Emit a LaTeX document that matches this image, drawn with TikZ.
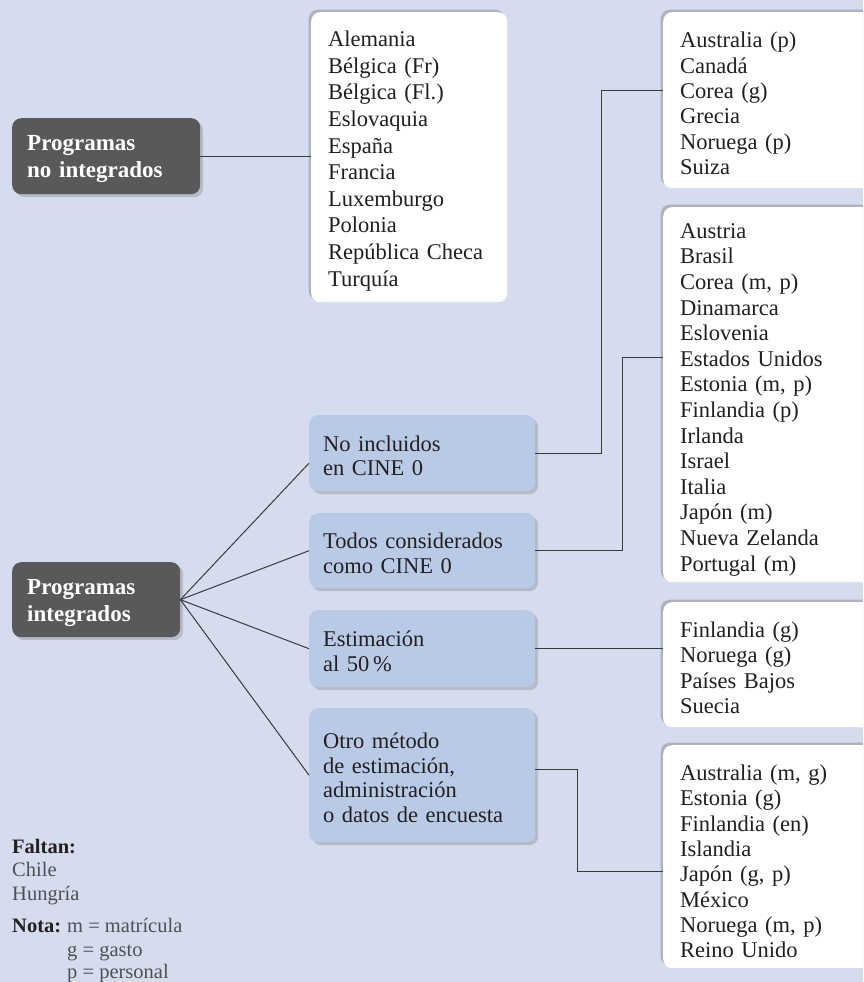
\documentclass[tikz,border=0pt]{standalone}
\usepackage{fontspec}
\setmainfont{Liberation Serif}
\usetikzlibrary{shadows}
\definecolor{bgc}{HTML}{D4DCEE}
\definecolor{bluec}{HTML}{B9CAE6}
\definecolor{darkc}{HTML}{58595B}
\definecolor{txtc}{HTML}{231F20}
\definecolor{fnc}{HTML}{505052}
\definecolor{linec}{HTML}{3A3A3C}
\newcommand{\shiftdn}[1]{\rule{0pt}{#1pt}}
\begin{document}
\begin{tikzpicture}[x=1pt,y=-1pt,
  darkbox/.style={fill=darkc, rounded corners=9pt, text=white,
    font=\fontsize{23}{27}\selectfont\bfseries, align=left, inner xsep=15pt, inner ysep=0pt,
    anchor=north west, drop shadow={shadow xshift=3pt, shadow yshift=-3pt, opacity=0.35}},
  bluebox/.style={fill=bluec, rounded corners=9pt, text=txtc,
    font=\fontsize{22.5}{24.5}\selectfont, align=left, inner xsep=14pt, inner ysep=0pt,
    anchor=north west, drop shadow={shadow xshift=3pt, shadow yshift=-3pt, opacity=0.35}},
  whitebox/.style={fill=white, rounded corners=9pt, text=txtc,
    font=\fontsize{22.5}{25.3}\selectfont, align=left, inner xsep=17pt, inner ysep=0pt,
    anchor=north west, drop shadow={shadow xshift=-2.5pt, shadow yshift=2.5pt, fill=black!50, opacity=0.45}},
  conn/.style={draw=linec, line width=1pt},
  fnbold/.style={anchor=base west, inner sep=0pt, text=txtc, font=\fontsize{20.5}{24}\selectfont\bfseries},
  fntext/.style={anchor=base west, inner sep=0pt, text=fnc, font=\fontsize{20.5}{24}\selectfont}]
\useasboundingbox (0,0) rectangle (863,982);
\clip (0,0) rectangle (863,982);
\fill[bgc] (0,0) rectangle (863,982);

% left dark boxes
\node[darkbox, text width=158pt, minimum height=76pt] (nd) at (12,118) {\shiftdn{21}Programas\\no integrados};
\node[darkbox, text width=138pt, minimum height=75pt] (id) at (12,562) {\shiftdn{21}Programas\\integrados};

% white list box (no integrados)
\node[whitebox, font=\fontsize{22.5}{26.6}\selectfont, text width=162pt, minimum height=290pt] (w1) at (311,12)
 {\shiftdn{23}Alemania\\Bélgica (Fr)\\Bélgica (Fl.)\\Eslovaquia\\España\\Francia\\Luxemburgo\\Polonia\\República Checa\\Turquía};

% blue boxes
\node[bluebox, text width=198pt, minimum height=76pt] (b1) at (309,415) {\shiftdn{21}No incluidos\\en CINE 0};
\node[bluebox, text width=198pt, minimum height=75pt] (b2) at (309,513) {\shiftdn{21}Todos considerados\\como CINE 0};
\node[bluebox, text width=198pt, minimum height=77pt] (b3) at (309,610) {\shiftdn{21}Estimación\\al 50\,\%};
\node[bluebox, text width=198pt, minimum height=134pt] (b4) at (309,708) {\shiftdn{21}Otro método\\de estimación,\\administración\\o datos de encuesta};

% right white boxes
\node[whitebox, text width=230pt, minimum height=176pt] (rA) at (663,12)
 {\shiftdn{22}Australia (p)\\Canadá\\Corea (g)\\Grecia\\Noruega (p)\\Suiza};
\node[whitebox, font=\fontsize{22.5}{25.6}\selectfont, text width=230pt, minimum height=375pt] (rB) at (663,207)
 {\shiftdn{25}Austria\\Brasil\\Corea (m, p)\\Dinamarca\\Eslovenia\\Estados Unidos\\Estonia (m, p)\\Finlandia (p)\\Irlanda\\Israel\\Italia\\Japón (m)\\Nueva Zelanda\\Portugal (m)};
\node[whitebox, text width=230pt, minimum height=125pt] (rC) at (663,602)
 {\shiftdn{22}Finlandia (g)\\Noruega (g)\\Países Bajos\\Suecia};
\node[whitebox, text width=230pt, minimum height=223pt] (rD) at (663,745)
 {\shiftdn{25}Australia (m, g)\\Estonia (g)\\Finlandia (en)\\Islandia\\Japón (g, p)\\México\\Noruega (m, p)\\Reino Unido};

% connectors
\draw[conn] (nd.east) -- (nd.east -| w1.west);
\draw[conn] (id.east) -- ([yshift=-10pt]b1.west);
\draw[conn] (id.east) -- (b2.west);
\draw[conn] (id.east) -- (b3.west);
\draw[conn] (id.east) -- (b4.west);

\coordinate (jA) at (601,90);
\coordinate (jB) at (622,357);
\coordinate (jD) at (577,871);
\draw[conn] (b1.east) -| (jA) -- (jA -| rA.west);
\draw[conn] (b2.east) -| (jB) -- (jB -| rB.west);
\draw[conn] (b3.east) -- (b3.east -| rC.west);
\draw[conn] ([yshift=6pt]b4.east) -| (jD) -- (jD -| rD.west);

% footnote
\node[fnbold] (f1) at (12,853) {Faltan:};
\node[fntext] (f2) at (12,876) {Chile};
\node[fntext] (f3) at (12,900) {Hungría};
\node[fnbold] (f4) at (12,932) {Nota:};
\node[fntext] (f5) at (67,932) {m = matrícula};
\node[fntext] (f6) at (67,956) {g = gasto};
\node[fntext] (f7) at (67,978) {p = personal};
\end{tikzpicture}
\end{document}
